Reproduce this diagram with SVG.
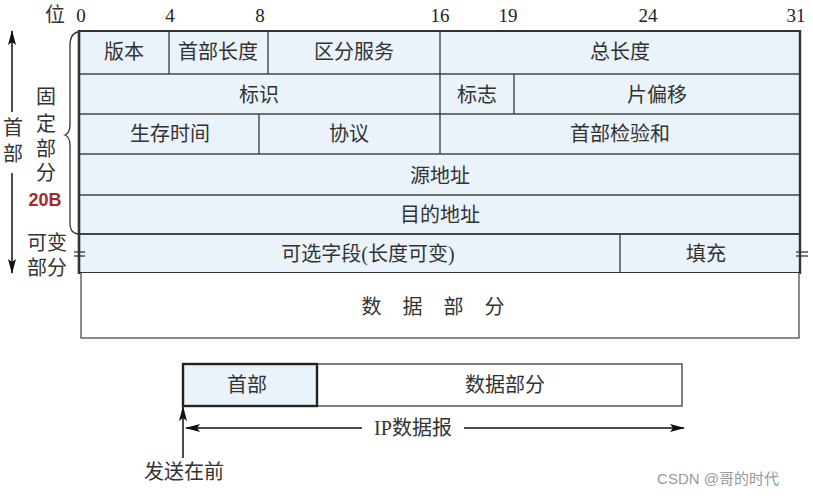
<svg xmlns="http://www.w3.org/2000/svg" width="813" height="498" viewBox="0 0 813 498">
<defs>
<style>
.t{font-family:"Liberation Serif","Noto Sans CJK SC",serif;font-size:20px;fill:#333;text-anchor:middle;dominant-baseline:central}
.n{font-family:"Liberation Serif",serif;font-size:19px;fill:#222;text-anchor:middle;dominant-baseline:central}
.cell{fill:#EAF2FA;stroke:#444;stroke-width:1.4}
.ln{stroke:#444;stroke-width:1.4;fill:none}
.arr{stroke:#111;stroke-width:1.5;fill:none}
</style>
<marker id="ah" markerWidth="16" markerHeight="8" refX="14" refY="4" orient="auto" markerUnits="userSpaceOnUse">
<path d="M0,0 L15,4 L0,8 L3,4 z" fill="#111"/>
</marker>
</defs>
<rect width="813" height="498" fill="#fff"/>

<g id="bit-labels">
<text class="t" x="55" y="15">位</text>
<text class="n" x="81" y="15">0</text>
<text class="n" x="170" y="15">4</text>
<text class="n" x="260" y="15">8</text>
<text class="n" x="440" y="15">16</text>
<text class="n" x="508" y="15">19</text>
<text class="n" x="648" y="15">24</text>
<text class="n" x="796" y="15">31</text>
</g>

<g id="header">
<rect class="cell" x="79" y="31" width="721" height="242"/>
<g id="row1">
<line class="ln" x1="169" y1="31" x2="169" y2="74"/>
<line class="ln" x1="268" y1="31" x2="268" y2="74"/>
<line class="ln" x1="440" y1="31" x2="440" y2="74"/>
<line class="ln" x1="79" y1="74" x2="800" y2="74"/>
<text class="t" x="124" y="52">版本</text>
<text class="t" x="218" y="52">首部长度</text>
<text class="t" x="354" y="52">区分服务</text>
<text class="t" x="620" y="52">总长度</text>
</g>
<g id="row2">
<line class="ln" x1="440" y1="74" x2="440" y2="114"/>
<line class="ln" x1="514" y1="74" x2="514" y2="114"/>
<line class="ln" x1="79" y1="114" x2="800" y2="114"/>
<text class="t" x="259" y="95">标识</text>
<text class="t" x="477" y="95">标志</text>
<text class="t" x="657" y="95">片偏移</text>
</g>
<g id="row3">
<line class="ln" x1="259" y1="114" x2="259" y2="154"/>
<line class="ln" x1="440" y1="114" x2="440" y2="154"/>
<line class="ln" x1="79" y1="154" x2="800" y2="154"/>
<text class="t" x="170" y="134">生存时间</text>
<text class="t" x="349" y="134">协议</text>
<text class="t" x="620" y="134">首部检验和</text>
</g>
<g id="row4">
<line class="ln" x1="79" y1="195" x2="800" y2="195"/>
<text class="t" x="440" y="176">源地址</text>
</g>
<g id="row5">
<line class="ln" x1="79" y1="234" x2="800" y2="234" style="stroke-width:2"/>
<text class="t" x="440" y="215">目的地址</text>
</g>
<g id="row6">
<line class="ln" x1="620" y1="234" x2="620" y2="273"/>
<text class="t" x="368" y="254">可选字段(长度可变)</text>
<text class="t" x="706" y="254">填充</text>
</g>
<line x1="79" y1="30" x2="79" y2="274" stroke="#333" stroke-width="2.6"/>
<line x1="800" y1="30" x2="800" y2="274" stroke="#333" stroke-width="2.4"/>
<line x1="78" y1="31" x2="801" y2="31" stroke="#333" stroke-width="2"/>
<line x1="78" y1="273" x2="801" y2="273" stroke="#333" stroke-width="2"/>
</g>

<g id="data-part">
<path d="M81,273 L81,338 L799,338 L799,273" fill="#fff" stroke="#666" stroke-width="1.5"/>
<text class="t" x="437" y="307" style="letter-spacing:8px" xml:space="preserve">数 据 部 分</text>
</g>

<g id="left-labels">
<text class="t" x="13" y="128">首</text>
<text class="t" x="13" y="154">部</text>
<text class="t" x="46" y="97">固</text>
<text class="t" x="46" y="124">定</text>
<text class="t" x="46" y="149">部</text>
<text class="t" x="46" y="173">分</text>
<text x="45" y="200" style="font-family:'Liberation Sans',sans-serif;font-weight:bold;font-size:18px;fill:#A3282B;text-anchor:middle;dominant-baseline:central">20B</text>
<text class="t" x="47" y="243">可变</text>
<text class="t" x="47" y="268">部分</text>
</g>

<g id="connectors">
<path class="ln" d="M78,32 C72,33 70,38 70,46 L70,124 C70,130 68,134 65,135 C68,136 70,140 70,146 L70,222 C70,230 72,233 78,234" style="stroke:#333;stroke-width:1.3"/>
<line class="arr" x1="12" y1="112" x2="12" y2="31" marker-end="url(#ah)"/>
<line class="arr" x1="12" y1="173" x2="12" y2="273" marker-end="url(#ah)"/>
<g stroke="#333" stroke-width="1.3">
<line x1="74" y1="252" x2="85" y2="252"/>
<line x1="74" y1="256" x2="85" y2="256"/>
<line x1="796" y1="252" x2="808" y2="252"/>
<line x1="796" y1="256" x2="808" y2="256"/>
</g>
<line class="arr" x1="362" y1="428" x2="186" y2="428" marker-end="url(#ah)"/>
<line class="arr" x1="464" y1="428" x2="684" y2="428" marker-end="url(#ah)"/>
<line class="arr" x1="183" y1="458" x2="183" y2="407" marker-end="url(#ah)"/>
</g>

<g id="datagram">
<rect x="317" y="364" width="365" height="42" fill="#fff" stroke="#555" stroke-width="1.5"/>
<rect x="183" y="364" width="134" height="42" fill="#EAF2FA" stroke="#222" stroke-width="2.4"/>
<text class="t" x="247" y="385">首部</text>
<text class="t" x="505" y="385">数据部分</text>
<text class="t" x="413" y="428">IP数据报</text>
<text class="t" x="184" y="472">发送在前</text>
</g>

<text x="718" y="478" style="font-family:'Liberation Sans','Noto Sans CJK SC',sans-serif;font-size:15px;fill:#999;text-anchor:middle;dominant-baseline:central">CSDN @哥的时代</text>
</svg>
